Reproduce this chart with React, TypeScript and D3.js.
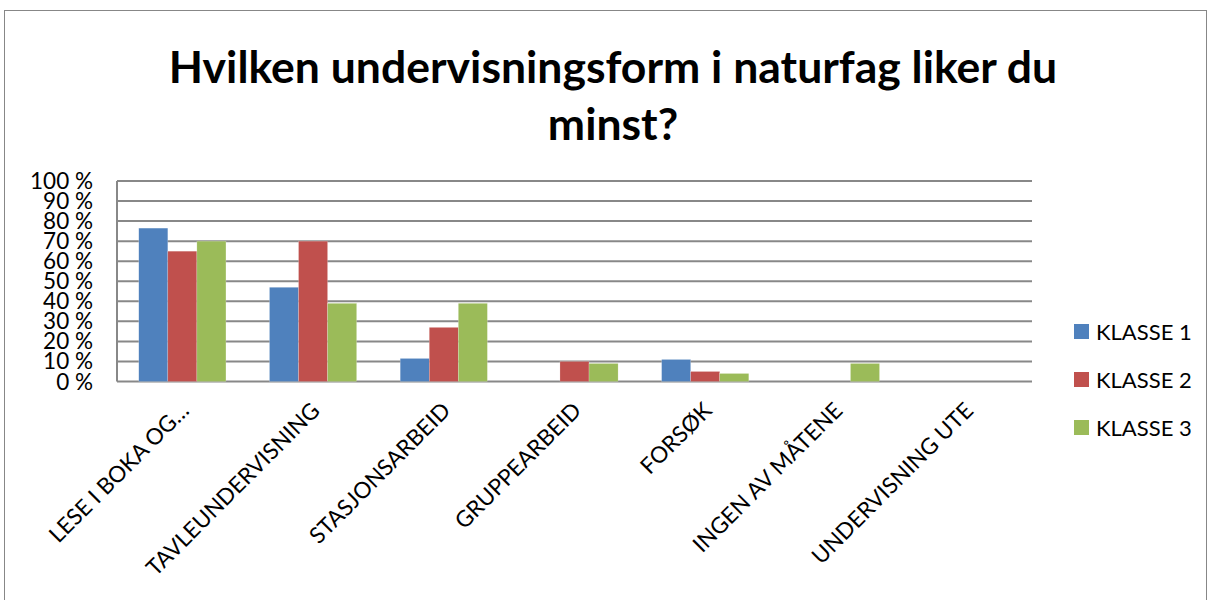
import * as d3 from "d3";

const categories = [
  "LESE I BOKA OG…",
  "TAVLEUNDERVISNING",
  "STASJONSARBEID",
  "GRUPPEARBEID",
  "FORSØK",
  "INGEN AV MÅTENE",
  "UNDERVISNING UTE",
];
const seriesNames = ["KLASSE 1", "KLASSE 2", "KLASSE 3"];
const klasse1 = [76.5, 47, 11.5, 0, 11, 0, 0];
const klasse2 = [65, 70, 27, 10, 5, 0, 0];
const klasse3 = [70, 39, 39, 9, 4, 9, 0];
const colors = ["#4F81BD", "#C0504D", "#9BBB59"];
const yTicks = [0, 10, 20, 30, 40, 50, 60, 70, 80, 90, 100];

const W = 1209;
const H = 600;
const FONT = "Lato, 'Open Sans', sans-serif";

export default function App() {
  const series = [klasse1, klasse2, klasse3];
  const left = 117, right = 1032, top = 181, bottom = 381.5;

  const x = d3.scaleBand<string>().domain(categories).range([left, right]).paddingInner(0.333).paddingOuter(0.1665);
  const x1 = d3.scaleBand<number>().domain([0, 1, 2]).range([0, x.bandwidth()]);
  const y = d3.scaleLinear().domain([0, 100]).range([bottom, top]);

  return (
    <svg width={W} height={H} style={{ position: "fixed", left: 0, top: 0 }}>
      <rect x={0} y={0} width={W} height={H} fill="#fff" />
      <rect x={4.5} y={10.5} width={W - 7} height={H} fill="none" stroke="#878787" strokeWidth={1} />

      <text x={613} y={83} textAnchor="middle" fontFamily={FONT} fontWeight="bold" fontSize={44.5} fill="#000">
        Hvilken undervisningsform i naturfag liker du
      </text>
      <text x={613} y={140} textAnchor="middle" fontFamily={FONT} fontWeight="bold" fontSize={44.5} fill="#000">
        minst?
      </text>

      {/* gridlines */}
      {yTicks.map((t) => (
        <line key={t} x1={left} x2={right} y1={y(t)} y2={y(t)} stroke="#888" strokeWidth={2} />
      ))}
      <line x1={left} x2={left} y1={top} y2={bottom} stroke="#888" strokeWidth={2} />

      {/* y tick labels */}
      {yTicks.map((t) => (
        <text key={t} x={93} y={y(t) + 8} textAnchor="end" fontFamily={FONT} fontSize={22.5} fill="#000">
          {t} %
        </text>
      ))}

      {/* bars */}
      {series.map((vals, si) =>
        vals.map((v, ci) =>
          v > 0 ? (
            <rect
              key={`${si}-${ci}`}
              x={(x(categories[ci]) ?? 0) + (x1(si) ?? 0)}
              y={y(v)}
              width={x1.bandwidth()}
              height={bottom - y(v)}
              fill={colors[si]}
              stroke="#fff"
              strokeOpacity={0.4}
              strokeWidth={0.5}
            />
          ) : null
        )
      )}

      {/* x labels */}
      {categories.map((c) => {
        const cx = (x(c) ?? 0) + x.bandwidth() / 2 + 8;
        const cy = 412;
        return (
          <text
            key={c}
            x={cx}
            y={cy}
            textAnchor="end"
            transform={`rotate(-45, ${cx}, ${cy})`}
            fontFamily={FONT}
            fontSize={22.5}
            fill="#000"
          >
            {c}
          </text>
        );
      })}

      {/* legend */}
      {seriesNames.map((n, i) => (
        <g key={n} transform={`translate(1074, ${324 + i * 48})`}>
          <rect x={0} y={0} width={15} height={15} fill={colors[i]} />
          <text x={22} y={16} fontFamily={FONT} fontSize={22} fill="#000">
            {n}
          </text>
        </g>
      ))}
    </svg>
  );
}
